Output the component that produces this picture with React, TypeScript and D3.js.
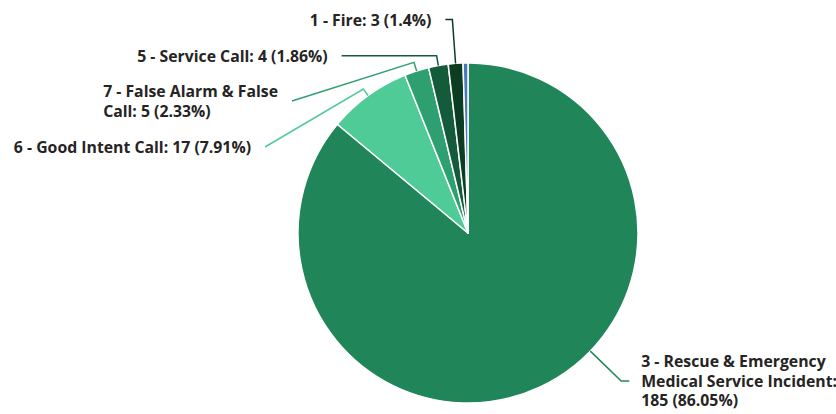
import React, { useMemo } from "react";
import * as d3 from "d3";

const CATEGORIES = [
  "3 - Rescue & Emergency Medical Service Incident",
  "6 - Good Intent Call",
  "7 - False Alarm & False Call",
  "5 - Service Call",
  "1 - Fire",
  "4 - Hazardous Condition (No Fire)",
];
const COUNTS = [185, 17, 5, 4, 3, 1];
const COLORS = ["#21855A", "#4FCB97", "#2E9F6F", "#145C39", "#0B3D23", "#4A78B8"];

// label layout (annotation geometry), null = label hidden
type LabelLayout = {
  angleDeg?: number;
  elbowR: number;
  end?: [number, number];
  hLen?: number;
  maxWidth: number;
} | null;
const LABEL_LAYOUT: LabelLayout[] = [
  { angleDeg: 134, elbowR: 213, hLen: 8, maxWidth: 206 },
  { elbowR: 178, end: [265, 147], maxWidth: 400 },
  { elbowR: 179, end: [292, 101], maxWidth: 182 },
  { elbowR: 180, hLen: -95, maxWidth: 400 },
  { elbowR: 214, hLen: -7, maxWidth: 400 },
  null,
];

const W = 836;
const H = 414;
const CX = 468;
const CY = 233;
const R = 170;
const FONT_SIZE = 15.8;
const FONT_FAMILY = "'Open Sans', 'Noto Sans', sans-serif";
const FONT_WEIGHT = 700;
const LINE_H = 19.5;
const TEXT_GAP = 14;

function wrap(text: string, maxWidth: number): { lines: string[]; width: number } {
  const canvas = document.createElement("canvas");
  const ctx = canvas.getContext("2d")!;
  ctx.font = `${FONT_WEIGHT} ${FONT_SIZE}px ${FONT_FAMILY}`;
  const words = text.split(" ");
  const lines: string[] = [];
  let cur = "";
  for (const w of words) {
    const test = cur ? cur + " " + w : w;
    if (ctx.measureText(test).width > maxWidth && cur) {
      lines.push(cur);
      cur = w;
    } else cur = test;
  }
  if (cur) lines.push(cur);
  const width = d3.max(lines, (l) => ctx.measureText(l).width) || 0;
  return { lines, width };
}

export default function App() {
  const total = d3.sum(COUNTS);
  const pct = d3.format(".2~f");
  const pie = d3
    .pie<number>()
    .sort(null)
    .value((d) => d)
    .startAngle(0)
    .endAngle(2 * Math.PI);
  const arcs = pie(COUNTS);
  const arcGen = d3
    .arc<d3.PieArcDatum<number>>()
    .innerRadius(0)
    .outerRadius(R)
    .cornerRadius(1.5);

  const pt = (a: number, r: number): [number, number] => [
    CX + r * Math.sin(a),
    CY - r * Math.cos(a),
  ];

  const labels = useMemo(
    () =>
      arcs.map((a, i) => {
        const lay = LABEL_LAYOUT[i];
        if (!lay) return null;
        const ang =
          lay.angleDeg !== undefined
            ? (lay.angleDeg * Math.PI) / 180
            : (a.startAngle + a.endAngle) / 2;
        const start = pt(ang, R);
        const elbow = pt(ang, lay.elbowR);
        const end: [number, number] = lay.end
          ? lay.end
          : [elbow[0] + (lay.hLen || 0), elbow[1]];
        const right = end[0] > CX;
        const text = `${CATEGORIES[i]}: ${COUNTS[i]} (${pct((COUNTS[i] / total) * 100)}%)`;
        const { lines, width } = wrap(text, lay.maxWidth);
        const x = right ? end[0] + TEXT_GAP - 2 : end[0] - TEXT_GAP - width;
        return { start, elbow, end, lines, x, color: COLORS[i] };
      }),
    []
  );

  return (
    <svg
      width={W}
      height={H}
      style={{ position: "absolute", left: 0, top: 0, background: "#fff" }}
    >
      <g>
        {arcs.map((a, i) => (
          <path
            key={i}
            transform={`translate(${CX},${CY})`}
            d={arcGen(a) || ""}
            fill={COLORS[i]}
            stroke="#fff"
            strokeWidth={1.5}
            strokeLinejoin="round"
          />
        ))}
      </g>
      <g>
        {labels.map((l, i) =>
          l ? (
            <g key={i}>
              <polyline
                points={[l.start, l.elbow, l.end].map((p) => p.join(",")).join(" ")}
                fill="none"
                stroke={l.color}
                strokeWidth={1.5}
              />
              <text
                x={l.x}
                y={l.end[1] - ((l.lines.length - 1) * LINE_H) / 2}
                textAnchor="start"
                dominantBaseline="central"
                fontFamily={FONT_FAMILY}
                fontWeight={FONT_WEIGHT}
                fontSize={FONT_SIZE}
                fill="#252423"
              >
                {l.lines.map((s, j) => (
                  <tspan key={j} x={l.x} dy={j === 0 ? 0 : LINE_H}>
                    {s}
                  </tspan>
                ))}
              </text>
            </g>
          ) : null
        )}
      </g>
    </svg>
  );
}
